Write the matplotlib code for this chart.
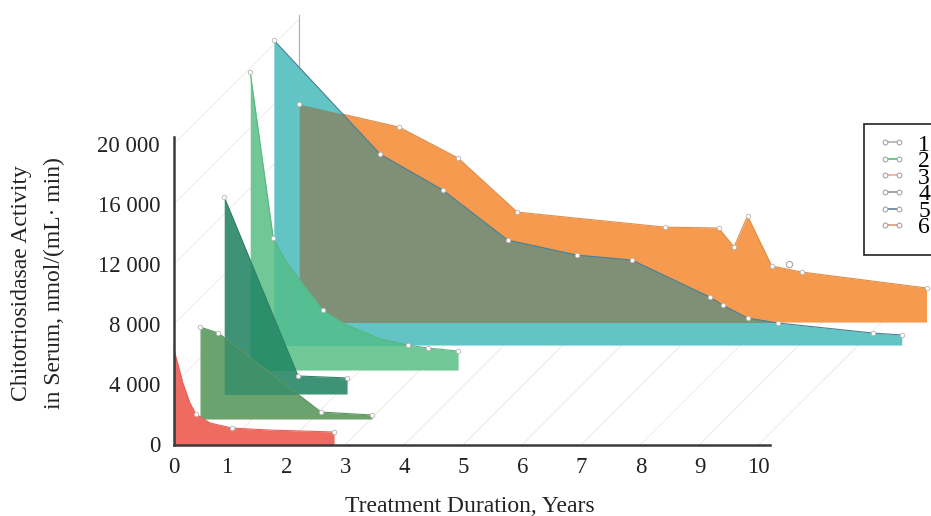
import matplotlib
matplotlib.use("Agg")
import matplotlib.pyplot as plt
from matplotlib.lines import Line2D
from matplotlib.patches import Polygon, Rectangle

plt.rcParams["font.family"] = ["Liberation Serif", "DejaVu Serif"]

# years / nmol, series drawn with a depth shift so baselines differ
x1 = [0.10, 0.17, 0.25, 0.37, 0.47, 0.71, 1.08, 1.73, 2.81]
y1 = [6290, 5290, 4090, 2760, 2030, 1430, 1098, 960, 832]
x2 = [0.54, 0.85, 2.59, 3.45]
y2 = [7820, 7420, 2160, 1964]
x3 = [0.95, 2.20, 3.03]
y3 = [16470, 4560, 4430]
x4 = [1.39, 1.78, 2.00, 2.62, 3.00, 3.60, 4.06, 4.40, 4.91]
y4 = [24790, 13740, 12150, 8950, 8000, 7020, 6620, 6420, 6220]
x5 = [1.79, 3.59, 4.65, 5.75, 6.92, 7.85, 9.17, 9.39, 9.81, 10.32, 11.93, 12.42]
y5 = [26920, 19330, 16940, 13610, 12610, 12280, 9820, 9280, 8420, 8090, 7420, 7290]
x6 = [2.22, 3.91, 4.91, 5.91, 8.41, 9.32, 9.58, 9.81, 10.22, 10.73, 12.84]
y6 = [22660, 21130, 19070, 15470, 14470, 14410, 13150, 15210, 11880, 11480, 10420]
bases = [0, 1697, 3361, 4958, 6620, 8150]
stray_x = [10.51]
stray_y = [12010]

# which read points carry a marker (the rest only follow the curve)
marked1 = [4, 6, 8]
marked4 = [0, 1, 3, 6, 7, 8]

names = ["1", "2", "3", "4", "5", "6"]
fills = ["#EE6B62", "#6BA36E", "#3E9276", "#72C796", "#62C4C4", "#F59A4F"]
lines = ["#E5625A", "#5E9362", "#2F8268", "#5CB585", "#4A7F95", "#E08E4A"]
legend_lines = ["#A9B8A8", "#4FBF85", "#EFA9A0", "#8A9A90", "#5A7FA0", "#E39A78"]

xtick_pos = [0.10, 1, 2, 3, 4, 5, 6, 7, 8, 9, 10]
xtick_labels = ["0", "1", "2", "3", "4", "5", "6", "7", "8", "9", "10"]
ytick_pos = [0, 4000, 8000, 12000, 16000, 20000]
ytick_labels = ["0", "4 000", "8 000", "12 000", "16 000", "20 000"]

W, H = 931, 516
fig = plt.figure(figsize=(W / 100, H / 100), dpi=100)
ax = fig.add_axes([174 / W, (H - 444.5) / H, (770 - 174) / W, (444.5 - 137) / H])
ax.set_xlim(0.10, 10.19)
ax.set_ylim(0, 20470)
ax.patch.set_alpha(0)

# faint depth lines of the 3d box
dx, dy = 2.10, 8250
for t in ytick_pos[1:]:
    ax.plot([0.10, 0.10 + dx], [t, t + dy], color="#F0EDEB", lw=0.7, clip_on=False, zorder=1)
for t in xtick_pos[1:]:
    ax.plot([t, t + dx], [0, dy], color="#EDEAE7", lw=0.7, clip_on=False, zorder=1)
ax.plot([2.22, 2.22], [22660, 28600], color="#B5B0AC", lw=0.9, clip_on=False, zorder=1)

xs = [x1, x2, x3, x4, x5, x6]
ys = [y1, y2, y3, y4, y5, y6]
marks = [marked1, range(len(x2)), range(len(x3)), marked4, range(len(x5)), range(len(x6))]


def outline(i):
    return list(zip(xs[i], ys[i])) + [(xs[i][-1], bases[i]), (xs[i][0], bases[i])]


# back to front
for i in [5, 4, 3, 2, 1, 0]:
    z = 10 + (5 - i) * 3
    ax.fill_between(xs[i], ys[i], bases[i], color=fills[i], lw=0, clip_on=False, zorder=z)


def overlap(back, front, color):
    # front polygon shows the back one through it
    z = 10 + (5 - front) * 3 + 1
    clip = Polygon(outline(front), transform=ax.transData, fc="none", ec="none")
    ax.add_patch(clip)
    art = ax.fill_between(xs[back], ys[back], bases[back], color=color, lw=0, zorder=z)
    art.set_clip_box(None)
    art.set_clip_path(clip)


overlap(5, 4, "#7F9077")
overlap(4, 3, "#55BE93")
overlap(3, 2, "#2C8F6C")
overlap(2, 1, "#3E9169")

for i in range(6):
    z = 10 + (5 - i) * 3 + 2
    ax.plot(xs[i], ys[i], color=lines[i], lw=0.8, clip_on=False, zorder=z)
    mx = [xs[i][k] for k in marks[i]]
    my = [ys[i][k] for k in marks[i]]
    ax.plot(mx, my, ls="none", marker="o", ms=3.2, mfc="white", mec="#B8B4B0", mew=0.6,
            clip_on=False, zorder=40)
ax.plot(stray_x, stray_y, ls="none", marker="o", ms=4.5, mfc="white", mec="#A8A8A8", mew=0.8,
        clip_on=False, zorder=40)

for s in ["top", "right"]:
    ax.spines[s].set_visible(False)
for s in ["left", "bottom"]:
    ax.spines[s].set_color("#3A3A3A")
    ax.spines[s].set_linewidth(1.8)
    ax.spines[s].set_zorder(50)

ax.set_xticks(xtick_pos, xtick_labels)
ax.set_yticks(ytick_pos, ytick_labels)
ax.tick_params(length=0, labelsize=16.5, labelcolor="#222222")
ax.tick_params(axis="x", pad=9)
ax.tick_params(axis="y", pad=10)

fig.text(470 / W, 1 - 507 / H, "Treatment Duration, Years", ha="center", va="center", fontsize=17,
         color="#222222")
fig.text(22 / W, 1 - 283 / H, "Chitotriosidasae Activity", rotation=90, ha="center", va="center",
         fontsize=17, color="#222222")
fig.text(54 / W, 1 - 283 / H, "in Serum, nmol/(mL· min)", rotation=90, ha="center", va="center",
         fontsize=17, color="#222222")

# legend frame runs off the right edge like in the source
fig.add_artist(Rectangle((864 / W, 1 - 255 / H), 100 / W, 131 / H, transform=fig.transFigure,
                         fc="white", ec="#222222", lw=1.2, zorder=55))
handles = [
    Line2D([], [], color=c, lw=1.2, marker="o", ms=3.5, mfc="white", mec="#9A9A9A", mew=0.7)
    for c in legend_lines
]
leg = fig.legend(handles, names, loc="upper left", bbox_to_anchor=(878 / W, 1 - 134 / H),
                 borderaxespad=0, fontsize=17, labelspacing=-0.21, handlelength=1.2, numpoints=2,
                 handletextpad=0.5, borderpad=0, frameon=False)
leg.set_zorder(60)

fig.savefig("out.png", dpi=100)
